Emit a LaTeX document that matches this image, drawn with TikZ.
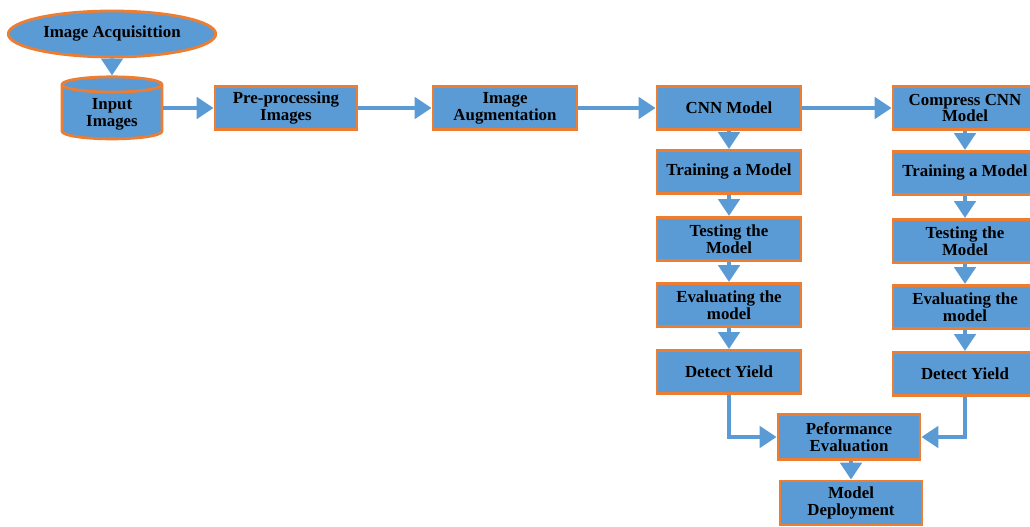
\documentclass[tikz,border=0pt]{standalone}
\usepackage{fontspec}
\setmainfont{Liberation Serif}
\usetikzlibrary{shapes.geometric, arrows.meta, positioning, calc}

\definecolor{boxblue}{HTML}{5B9BD5}
\definecolor{boxorange}{HTML}{ED7D31}

\tikzset{
    box/.style={rectangle, fill=boxblue, draw=boxorange, line width=2pt,
        minimum width=3.55cm, minimum height=1.08cm, align=center,
        font=\fontsize{12}{12}\selectfont\bfseries, inner sep=1pt},
    flow/.style={draw=boxblue, line width=3.5pt,
        -{Triangle[length=12pt,width=15pt]}}
}

\begin{document}
\begin{tikzpicture}
        % page size = reference size (40px = 1cm)
        \useasboundingbox (0,0) rectangle (25.75,-13.175);

        % Source
        \node[ellipse, fill=boxblue, draw=boxorange, line width=2pt,
              minimum width=5cm, minimum height=1.15cm,
              font=\fontsize{12}{12}\selectfont\bfseries] (acq) at (2.8,-0.85) {Image Acquisittion};
        \node[cylinder, shape border rotate=90, aspect=0.25, fill=boxblue, draw=boxorange,
              line width=2pt, minimum width=2.5cm, minimum height=1.5cm, align=center,
              font=\fontsize{12}{12}\selectfont\bfseries] (inp) at (2.8,-2.85) {Input\\Images};

        % Top row
        \node[box] (pre) at (7.15,-2.7) {Pre-processing\\Images};
        \node[box, minimum width=3.6cm] (aug) at (12.625,-2.7) {Image\\Augmentation};
        \node[box, minimum width=3.6cm] (cnn) at (18.225,-2.7) {CNN Model};
        \node[box, minimum width=3.6cm] (ccnn) at (24.125,-2.7) {Compress CNN\\Model};

        % CNN column
        \node[box, minimum width=3.6cm] (trl) at (18.225,-4.3) {Training a Model};
        \node[box, minimum width=3.6cm] (tsl) at (18.225,-5.975) {Testing the\\Model};
        \node[box, minimum width=3.6cm] (evl) at (18.225,-7.625) {Evaluating the\\model};
        \node[box, minimum width=3.6cm] (dyl) at (18.225,-9.3) {Detect Yield};

        % Compressed CNN column
        \node[box, minimum width=3.6cm] (trr) at (24.125,-4.325) {Training a Model};
        \node[box, minimum width=3.6cm] (tsr) at (24.125,-6.025) {Testing the\\Model};
        \node[box, minimum width=3.6cm] (evr) at (24.125,-7.675) {Evaluating the\\model};
        \node[box, minimum width=3.6cm] (dyr) at (24.125,-9.35) {Detect Yield};

        % Result
        \node[box, minimum height=1.13cm] (perf) at (21.225,-10.925) {Peformance\\Evaluation};
        \node[box, minimum height=1.1cm] (dep) at (21.275,-12.575) {Model\\Deployment};

        % Arrows
        \draw[flow] (acq) -- (inp);
        \draw[flow] (inp.east |- pre) -- (pre);
        \draw[flow] (pre) -- (aug);
        \draw[flow] (aug) -- (cnn);
        \draw[flow] (cnn) -- (ccnn);
        \draw[flow] (cnn) -- (trl);
        \draw[flow] (trl) -- (tsl);
        \draw[flow] (tsl) -- (evl);
        \draw[flow] (evl) -- (dyl);
        \draw[flow] (ccnn) -- (trr);
        \draw[flow] (trr) -- (tsr);
        \draw[flow] (tsr) -- (evr);
        \draw[flow] (evr) -- (dyr);
        \draw[flow] (dyl.south) |- (perf.west);
        \draw[flow] (dyr.south) |- (perf.east);
        \draw[flow] (perf.south -| dep.north) -- (dep);
\end{tikzpicture}
\end{document}
